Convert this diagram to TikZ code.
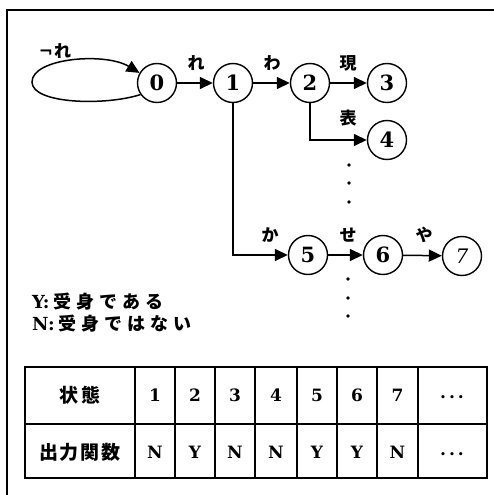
\documentclass[tikz,border=0pt]{standalone}
\usepackage{fontspec}
\newfontfamily\cjk{Noto Sans CJK JP}
\newfontfamily\dser{DejaVu Serif}
\newfontfamily\dsan{DejaVu Sans}
\usetikzlibrary{arrows.meta}
\newcommand\gapp{\hspace{5pt}}
\begin{document}
\begin{tikzpicture}[x=1pt,y=-1pt,
  st/.style={circle,draw,line width=1.4pt,minimum size=39pt,inner sep=0pt,font=\fontsize{21}{21}\selectfont\dser\bfseries},
  ar/.style={line width=1.5pt,-{Triangle[length=13pt,width=12pt]}},
  lab/.style={inner sep=0pt,font=\fontsize{17}{17}\selectfont\cjk\bfseries},
  leg/.style={anchor=west,inner sep=0pt,font=\fontsize{18}{18}\selectfont\dser\bfseries},
  cell/.style={inner sep=0pt,font=\fontsize{17}{17}\selectfont\dser\bfseries},
  jcell/.style={inner sep=0pt,font=\fontsize{19}{19}\selectfont\cjk\bfseries},
  grid/.style={line width=1.4pt},
  dot/.style={circle,fill,inner sep=0pt,minimum size=3.6pt}]
\useasboundingbox (0,0) rectangle (494,495);
% frame (cut off at right and bottom)
\draw[line width=1.1pt] (7,495) -- (7,10) -- (494,10);
% states
\node[st] (n0) at (157,83) {0};
\node[st] (n1) at (233,83) {1};
\node[st] (n2) at (310,83) {2};
\node[st] (n3) at (387,83) {3};
\node[st] (n4) at (387,140) {4};
\node[st] (n5) at (308,255) {5};
\node[st] (n6) at (383,255) {6};
\node[st,font=\fontsize{20}{20}\selectfont\dser\itshape] (n7) at (462,256) {7};
% transitions
\draw[ar] (n0) -- (n1);
\draw[ar] (n1) -- (n2);
\draw[ar] (n2) -- (n3);
\draw[ar] (n2.south) |- (n4);
\draw[ar] (n1.south) |- (n5);
\draw[ar] (n5) -- (n6);
\draw[ar] (n6) -- (n7);
\draw[ar] (n0.215) .. controls (105,106) and (32,104) .. (32,82)
  .. controls (32,58) and (105,52) .. (n0.150);
% labels
\node[lab] (l0) at (55,51) {{\dsan\bfseries ¬}\hspace{1pt}れ};
\node[lab] (l1) at (196,63) {れ};
\node[lab] (l2) at (272,63) {わ};
\node[lab] (l3) at (348,63) {現};
\node[lab] (l4) at (348,118) {表};
\node[lab] (l5) at (270,235) {か};
\node[lab] (l6) at (348,235) {せ};
\node[lab] (l7) at (424,235) {や};
% dots
\node[dot] (d1) at (349,165) {};
\node[dot] (d2) at (349,183) {};
\node[dot] (d3) at (349,202) {};
\node[dot] (d4) at (348,279) {};
\node[dot] (d5) at (348,298) {};
\node[dot] (d6) at (348,316) {};
% legend
\node[leg] (ly) at (32,302) {Y:\hspace{4pt}{\fontsize{18}{18}\selectfont\cjk 受\gapp 身\gapp で\gapp あ\gapp る}};
\node[leg] (ln) at (32,324) {N:\hspace{4pt}{\fontsize{18}{18}\selectfont\cjk 受\gapp 身\gapp で\gapp は\gapp な\gapp い}};
% table
\draw[grid] (25,367) rectangle (487,478);
\draw[grid] (25,424) -- (487,424);
\foreach \xx in {135,175,215,255,297,337,377,418}
  \draw[grid] (\xx,367) -- (\xx,478);
\node[jcell] (h0) at (80,395) {状\hspace{3pt}態};
\node[jcell] (h1) at (80,452) {出\hspace{2pt}力\hspace{2pt}関\hspace{2pt}数};
\node[cell] (s1) at (155,395) {1};
\node[cell] (s2) at (195,395) {2};
\node[cell] (s3) at (235,395) {3};
\node[cell] (s4) at (276,395) {4};
\node[cell] (s5) at (317,395) {5};
\node[cell] (s6) at (357,395) {6};
\node[cell] (s7) at (397.5,395) {7};
\node[cell] (o1) at (155,452) {N};
\node[cell] (o2) at (195,452) {Y};
\node[cell] (o3) at (235,452) {N};
\node[cell] (o4) at (276,452) {N};
\node[cell] (o5) at (317,452) {Y};
\node[cell] (o6) at (357,452) {Y};
\node[cell] (o7) at (397.5,452) {N};
\node[cell] (s8) at (452,397) {.\hspace{3pt}.\hspace{3pt}.};
\node[cell] (o8) at (452,454) {.\hspace{3pt}.\hspace{3pt}.};
\end{tikzpicture}
\end{document}
